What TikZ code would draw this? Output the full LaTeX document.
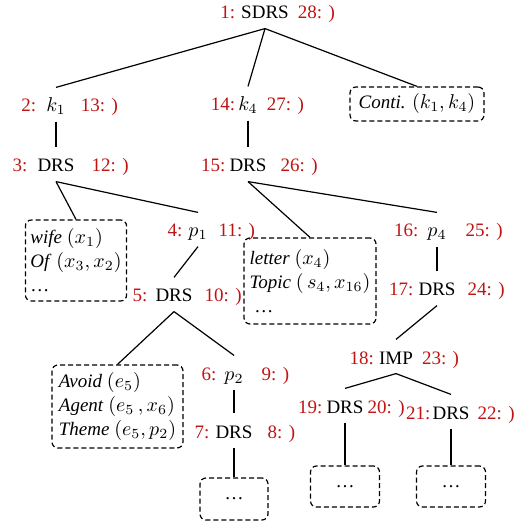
\documentclass[tikz,border=0pt]{standalone}
\usepackage{fontspec}
\setmainfont{Liberation Serif}
\DeclareMathSizes{9.5}{10}{7}{5.5}
\definecolor{numred}{RGB}{192,20,20}

\begin{document}
\begin{tikzpicture}[x=0.5pt, y=-0.5pt, line width=0.6pt,
        font=\fontsize{9.5pt}{12pt}\selectfont,
        txt/.style={inner xsep=0pt, inner ysep=4.5pt, text height=7.5pt, text depth=0pt},
        num/.style={txt, text=numred},
        lbl/.style n args={4}{txt,
            label={[num, label distance=#2]left:{#1}},
            label={[num, label distance=#4]right:{#3}}},
        dbox/.style={draw, dash pattern=on 2.5pt off 1.5pt, rounded corners=3pt, align=left, inner xsep=2.5pt}] %Estructura SDRS
            \useasboundingbox (0,0) rectangle (517,522);

            \node[lbl={1:}{2.5pt}{28: )}{4pt}] (n1) at (265,11.5) {SDRS};

            \node[lbl={2:}{4.5pt}{13: )}{7pt}] (n2) at (56,104.5) {$k_1$};
            \node[lbl={14:}{1pt}{27: )}{4pt}] (n14) at (248,103.5) {$k_4$};
            \node[dbox, minimum width=67pt, minimum height=17pt] (conti) at (417,104) {\textit{Conti.} $(k_1, k_4)$};

            \node[lbl={3:}{4.5pt}{12: )}{8pt}] (n3) at (56,164.5) {DRS};
            \node[lbl={15:}{1.5pt}{26: )}{6.5pt}] (n15) at (248,164.5) {DRS};

            \node[dbox, minimum width=50pt, minimum height=40.5pt] (wife) at (76,260.5)
                {\textit{wife} $(x_1)$\\ \textit{Of} $(x_3, x_2)$\\ \dots};
            \node[lbl={4:}{2.5pt}{11: )}{5pt}] (n4) at (198,229.5) {$p_1$};
            \node[dbox, minimum width=66pt, minimum height=43pt] (letter) at (310,281)
                {\textit{letter} $(x_4)$\\ \textit{Topic} $(\,s_4, x_{16})$\\ \ \dots};
            \node[lbl={16:}{4pt}{25: )}{9pt}] (n16) at (437,229.5) {$p_4$};

            \node[lbl={5:}{3.5pt}{10: )}{5.5pt}] (n5) at (174,294.5) {DRS};
            \node[lbl={17:}{2pt}{24: )}{5.5pt}] (n17) at (437,288.5) {DRS};

            \node[dbox, minimum width=65.5pt, minimum height=41.5pt] (avoid) at (117.5,406.5)
                {\textit{Avoid} $(e_5)$\\ \textit{Agent} $(e_5\,, x_6)$\\ \textit{Theme} $(e_5, p_2)$};
            \node[lbl={6:}{3.5pt}{9: )}{8.5pt}] (n6) at (234,372.5) {$p_2$};
            \node[lbl={18:}{2pt}{23: )}{4pt}] (n18) at (396,356.5) {IMP};

            \node[lbl={7:}{2.5pt}{8: )}{7pt}] (n7) at (234,430.5) {DRS};
            \node[lbl={19:}{1.5pt}{20: )}{1.5pt}] (n19) at (345,405.5) {DRS};
            \node[lbl={21:}{0.5pt}{22: )}{3.5pt}] (n21) at (451,411.5) {DRS};

            \node[dbox, minimum width=34pt, minimum height=21pt] (b7) at (234,499) {\dots};
            \node[dbox, minimum width=34.5pt, minimum height=20.5pt] (b19) at (345,486.5) {\dots};
            \node[dbox, minimum width=34.5pt, minimum height=20.5pt] (b21) at (451,486.5) {\dots};

            \draw (n1.south) -- (n2.north);
            \draw (n1.south) -- (n14.north);
            \draw (n1.south) -- (conti.north);
            \draw (n2.south) -- (n3.north);
            \draw (n14.south) -- (n15.north);
            \draw (n3.south) -- (wife.north);
            \draw (n3.south) -- (n4.north);
            \draw (n15.south) -- (letter.north);
            \draw (n15.south) -- (n16.north);
            \draw (n4.south) -- (n5.north);
            \draw (n16.south) -- (n17.north);
            \draw (n5.south) -- (avoid.north);
            \draw (n5.south) -- (n6.north);
            \draw (n17.south) -- (n18.north);
            \draw (n6.south) -- (n7.north);
            \draw (n18.south) -- (n19.north);
            \draw (n18.south) -- (n21.north);
            \draw (n7.south) -- (b7.north);
            \draw (n19.south) -- (b19.north);
            \draw (n21.south) -- (b21.north);
        \end{tikzpicture}
\end{document}
